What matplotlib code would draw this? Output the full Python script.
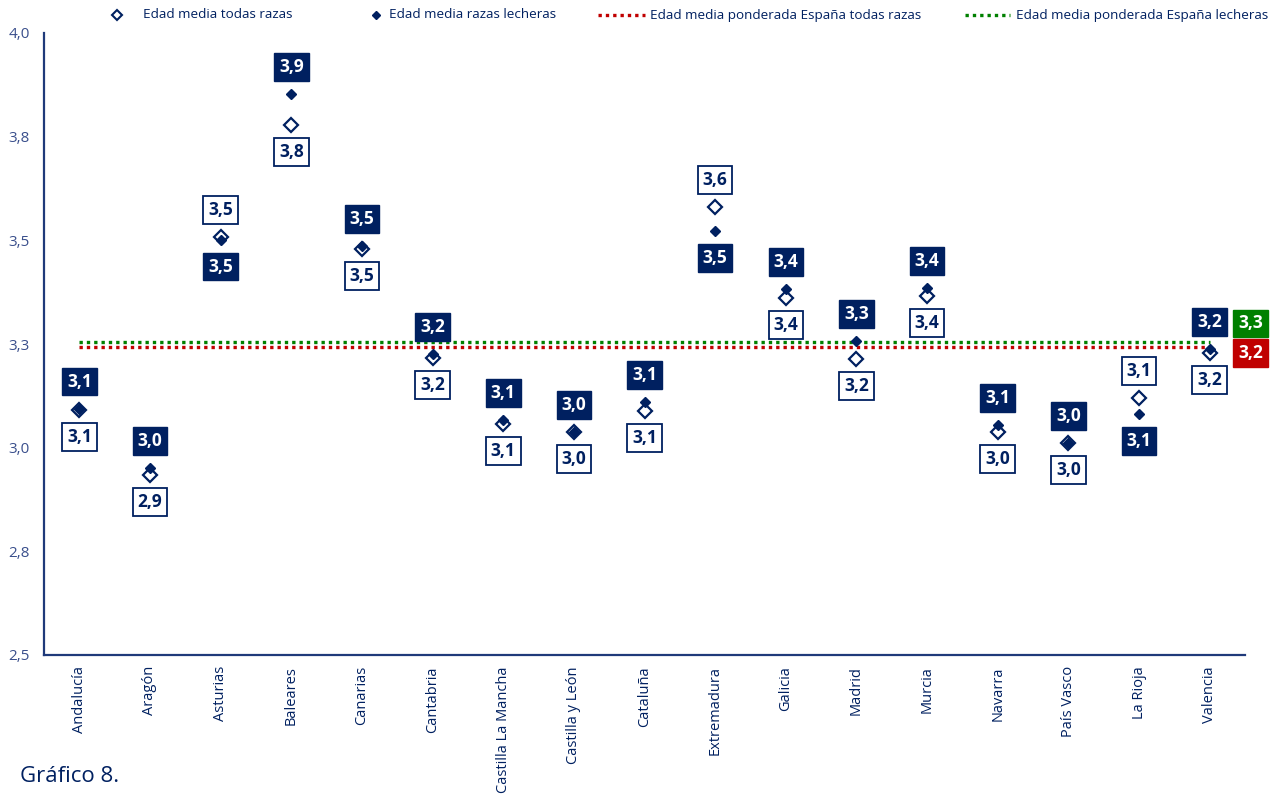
import matplotlib
matplotlib.use("Agg")
import matplotlib.pyplot as plt
from matplotlib.lines import Line2D
from matplotlib.ticker import FuncFormatter
from decimal import Decimal, ROUND_HALF_UP

plt.rcParams['font.family'] = ['Open Sans', 'DejaVu Sans']

regions = ["Andalucía", "Aragón", "Asturias", "Baleares", "Canarias", "Cantabria",
           "Castilla La Mancha", "Castilla y León", "Cataluña", "Extremadura",
           "Galicia", "Madrid", "Murcia", "Navarra", "País Vasco", "La Rioja", "Valencia"]
edad_todas = [3.091, 2.934, 3.508, 3.778, 3.479, 3.216, 3.057, 3.038, 3.088, 3.580,
              3.361, 3.214, 3.366, 3.038, 3.011, 3.120, 3.228]
edad_lecheras = [3.094, 2.951, 3.502, 3.853, 3.486, 3.226, 3.067, 3.038, 3.110, 3.523,
                 3.383, 3.257, 3.385, 3.055, 3.011, 3.081, 3.238]
media_espana_todas = 3.243
media_espana_lecheras = 3.256
legend_labels = ["Edad media todas razas", "Edad media razas lecheras",
                 "Edad media ponderada España todas razas", "Edad media ponderada España lecheras"]

NAVY = "#002060"
AXC = "#1F3A7A"
RED = "#C00000"
GREEN = "#008000"
DOTS = (0, (1, 1.2))

W, H = 1274, 799
fig = plt.figure(figsize=(W/100, H/100), dpi=100)
ax = fig.add_axes([44/W, 1-655/H, (1245-44)/W, (655-33)/H])

x = list(range(len(regions)))
ax.plot(x, [media_espana_todas]*len(x), linestyle=DOTS, color=RED, lw=2.4, zorder=1)
ax.plot(x, [media_espana_lecheras]*len(x), linestyle=DOTS, color=GREEN, lw=2.4, zorder=1)

ax.plot(x, edad_todas, linestyle='none', marker='D', ms=7, mfc='white', mec=NAVY, mew=1.6, zorder=3)
ax.plot(x, edad_lecheras, linestyle='none', marker='D', ms=5.2, mfc=NAVY, mec=NAVY, zorder=4)

def fmt(v):
    d = Decimal(str(round(v, 6))).quantize(Decimal('0.1'), rounding=ROUND_HALF_UP)
    return str(d).replace('.', ',')

off = 19.5
for i in x:
    t, l = edad_todas[i], edad_lecheras[i]
    l_up = l >= t
    ax.annotate(fmt(l), (i, l), xytext=(0, off if l_up else -off), textcoords='offset points',
                ha='center', va='center', fontsize=12.5, fontweight='bold', color='white',
                bbox=dict(boxstyle='square,pad=0.28', fc=NAVY, ec=NAVY, lw=1), zorder=5)
    ax.annotate(fmt(t), (i, t), xytext=(0, -off if l_up else off), textcoords='offset points',
                ha='center', va='center', fontsize=12.5, fontweight='bold', color=NAVY,
                bbox=dict(boxstyle='square,pad=0.28', fc='white', ec=NAVY, lw=1.3), zorder=5)

# right-side labels for reference lines
ax.annotate(fmt(media_espana_lecheras), (1.0, media_espana_lecheras), xycoords=('axes fraction', 'data'),
            xytext=(4, 13), textcoords='offset points', ha='center', va='center',
            fontsize=12.5, fontweight='bold', color='white',
            bbox=dict(boxstyle='square,pad=0.28', fc=GREEN, ec=GREEN), annotation_clip=False)
ax.annotate(fmt(media_espana_todas), (1.0, media_espana_todas), xycoords=('axes fraction', 'data'),
            xytext=(4, -4.5), textcoords='offset points', ha='center', va='center',
            fontsize=12.5, fontweight='bold', color='white',
            bbox=dict(boxstyle='square,pad=0.28', fc=RED, ec=RED), annotation_clip=False)

ax.set_xlim(-0.5, len(regions) - 0.5)
ax.set_ylim(2.5, 4.0)
ax.set_yticks([2.5, 2.75, 3.0, 3.25, 3.5, 3.75, 4.0])
ax.yaxis.set_major_formatter(FuncFormatter(lambda v, p: fmt(v)))
ax.set_xticks(x)
ax.set_xticklabels(regions, rotation=90, fontsize=10.5, color=NAVY)
ax.tick_params(axis='y', length=0, labelsize=11, labelcolor="#3A4F8C", pad=10)
ax.tick_params(axis='x', length=0, pad=8)
for s in ['top', 'right']:
    ax.spines[s].set_visible(False)
for s in ['left', 'bottom']:
    ax.spines[s].set_color(AXC)
    ax.spines[s].set_linewidth(1.6)

# legend row at top (manual layout)
ly = 1 - 15/H
fig.add_artist(Line2D([117/W], [ly], linestyle='none', marker='D', ms=5, mfc='white', mec=NAVY, mew=1.5))
fig.text(143/W, ly, legend_labels[0], fontsize=9.7, color=NAVY, va='center', ha='left')
fig.add_artist(Line2D([376/W], [ly], linestyle='none', marker='D', ms=3.6, mfc=NAVY, mec=NAVY))
fig.text(389/W, ly, legend_labels[1], fontsize=9.7, color=NAVY, va='center', ha='left')
fig.add_artist(Line2D([598/W, 645/W], [ly, ly], linestyle=DOTS, color=RED, lw=2.4))
fig.text(650/W, ly, legend_labels[2], fontsize=9.7, color=NAVY, va='center', ha='left')
fig.add_artist(Line2D([965/W, 1010/W], [ly, ly], linestyle=DOTS, color=GREEN, lw=2.4))
fig.text(1016/W, ly, legend_labels[3], fontsize=9.7, color=NAVY, va='center', ha='left')

fig.text(20/W, 1-777/H, "Gráfico 8.", fontsize=16, color=NAVY, va='center', ha='left')

fig.savefig("out.png", dpi=100)
